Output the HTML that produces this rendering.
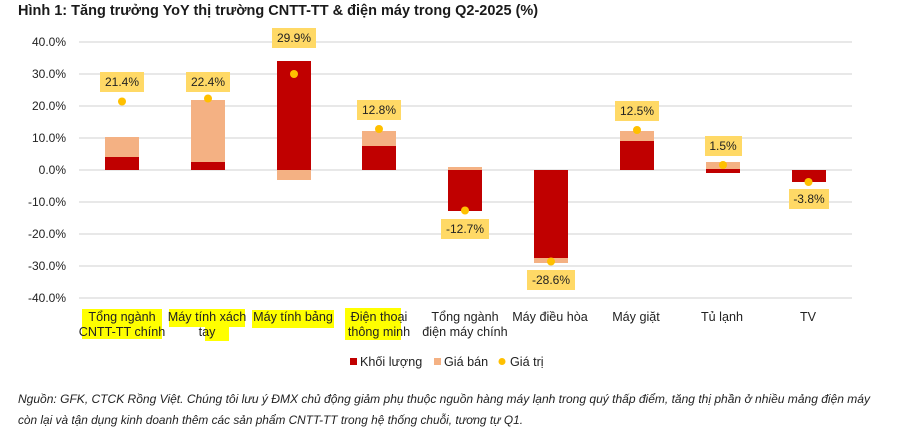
<!DOCTYPE html>
<html><head><meta charset="utf-8"><style>
body{margin:0;background:#fff;}
svg text{font-family:"Liberation Sans",sans-serif;}
</style></head><body>
<svg width="911" height="428" xmlns="http://www.w3.org/2000/svg">
<text x="18" y="15" font-size="14.5" font-weight="bold" fill="#1a1a1a">Hình 1: Tăng trưởng YoY thị trường CNTT-TT &amp; điện máy trong Q2-2025 (%)</text>
<g stroke="#d9d9d9" stroke-width="1.2">
<line x1="79" x2="852" y1="42" y2="42"/><line x1="79" x2="852" y1="74" y2="74"/>
<line x1="79" x2="852" y1="106" y2="106"/><line x1="79" x2="852" y1="138" y2="138"/>
<line x1="79" x2="852" y1="170" y2="170"/><line x1="79" x2="852" y1="202" y2="202"/>
<line x1="79" x2="852" y1="234" y2="234"/><line x1="79" x2="852" y1="266" y2="266"/>
<line x1="79" x2="852" y1="298" y2="298"/>
</g>
<g font-size="12" fill="#222" text-anchor="end">
<text x="66" y="46">40.0%</text><text x="66" y="78">30.0%</text><text x="66" y="110">20.0%</text>
<text x="66" y="142">10.0%</text><text x="66" y="174">0.0%</text><text x="66" y="206">-10.0%</text>
<text x="66" y="238">-20.0%</text><text x="66" y="270">-30.0%</text><text x="66" y="302">-40.0%</text>
</g>
<g>
<rect x="105" y="137" width="34" height="20" fill="#f4b183"/><rect x="105" y="157" width="34" height="13" fill="#c00000"/>
<rect x="191" y="100" width="34" height="62" fill="#f4b183"/><rect x="191" y="162" width="34" height="8" fill="#c00000"/>
<rect x="277" y="61" width="34" height="109" fill="#c00000"/><rect x="277" y="170" width="34" height="10" fill="#f4b183"/>
<rect x="362" y="131" width="34" height="15" fill="#f4b183"/><rect x="362" y="146" width="34" height="24" fill="#c00000"/>
<rect x="448" y="167" width="34" height="3" fill="#f4b183"/><rect x="448" y="170" width="34" height="41" fill="#c00000"/>
<rect x="534" y="170" width="34" height="88" fill="#c00000"/><rect x="534" y="258" width="34" height="5" fill="#f4b183"/>
<rect x="620" y="131" width="34" height="10" fill="#f4b183"/><rect x="620" y="141" width="34" height="29" fill="#c00000"/>
<rect x="706" y="162" width="34" height="7" fill="#f4b183"/><rect x="706" y="169" width="34" height="4" fill="#c00000"/>
<rect x="792" y="170" width="34" height="12" fill="#c00000"/>
</g>
<g fill="#ffc000">
<circle cx="122" cy="101.5" r="4"/><circle cx="208" cy="98.5" r="4"/><circle cx="294" cy="74" r="4"/>
<circle cx="379" cy="129" r="4"/><circle cx="465" cy="210.5" r="4"/><circle cx="551" cy="261.5" r="4"/>
<circle cx="637" cy="130" r="4"/><circle cx="723" cy="165" r="4"/><circle cx="808.5" cy="182" r="4"/>
</g>
<g fill="#ffd966">
<rect x="100" y="72" width="44" height="20"/><rect x="186" y="72" width="44" height="20"/>
<rect x="272" y="28" width="44" height="20"/><rect x="357" y="100" width="44" height="20"/>
<rect x="441" y="219" width="48" height="20"/><rect x="527" y="270" width="48" height="20"/>
<rect x="615" y="101" width="44" height="20"/><rect x="705" y="136" width="37" height="20"/>
<rect x="789" y="189" width="40" height="20"/>
</g>
<g font-size="12" fill="#222" text-anchor="middle">
<text x="122" y="86">21.4%</text><text x="208" y="86">22.4%</text><text x="294" y="42">29.9%</text>
<text x="379" y="114">12.8%</text><text x="465" y="233">-12.7%</text><text x="551" y="284">-28.6%</text>
<text x="637" y="115">12.5%</text><text x="723" y="150">1.5%</text><text x="809" y="203">-3.8%</text>
</g>
<g fill="#ffff00">
<rect x="82" y="309" width="80" height="30"/><rect x="169" y="309" width="76" height="18"/><rect x="205" y="325" width="24" height="16"/>
<rect x="252" y="310" width="82" height="18"/><rect x="345" y="308" width="56" height="32"/>
</g>
<g font-size="12.6" fill="#222" text-anchor="middle">
<text x="122" y="321">Tổng ngành</text><text x="122" y="336">CNTT-TT chính</text>
<text x="207" y="321">Máy tính xách</text><text x="207" y="336">tay</text>
<text x="293" y="321">Máy tính bảng</text>
<text x="379" y="321">Điện thoại</text><text x="379" y="336">thông minh</text>
<text x="465" y="321">Tổng ngành</text><text x="465" y="336">điện máy chính</text>
<text x="550" y="321">Máy điều hòa</text><text x="636" y="321">Máy giặt</text>
<text x="722" y="321">Tủ lạnh</text><text x="808" y="321">TV</text>
</g>
<rect x="350" y="358" width="7" height="7" fill="#c00000"/><text x="360" y="366" font-size="12.6" fill="#222">Khối lượng</text>
<rect x="434" y="358" width="7" height="7" fill="#f4b183"/><text x="444" y="366" font-size="12.6" fill="#222">Giá bán</text>
<circle cx="502" cy="361.5" r="3.5" fill="#ffc000"/><text x="510" y="366" font-size="12.6" fill="#222">Giá trị</text>
<g font-size="12" font-style="italic" fill="#222">
<text x="18" y="403" textLength="852" lengthAdjust="spacingAndGlyphs">Nguồn: GFK, CTCK Rồng Việt. Chúng tôi lưu ý ĐMX chủ động giảm phụ thuộc nguồn hàng máy lạnh trong quý thấp điểm, tăng thị phần ở nhiều mảng điện máy</text>
<text x="18" y="424" textLength="505" lengthAdjust="spacingAndGlyphs">còn lại và tận dụng kinh doanh thêm các sản phẩm CNTT-TT trong hệ thống chuỗi, tương tự Q1.</text>
</g>
</svg>
</body></html>
